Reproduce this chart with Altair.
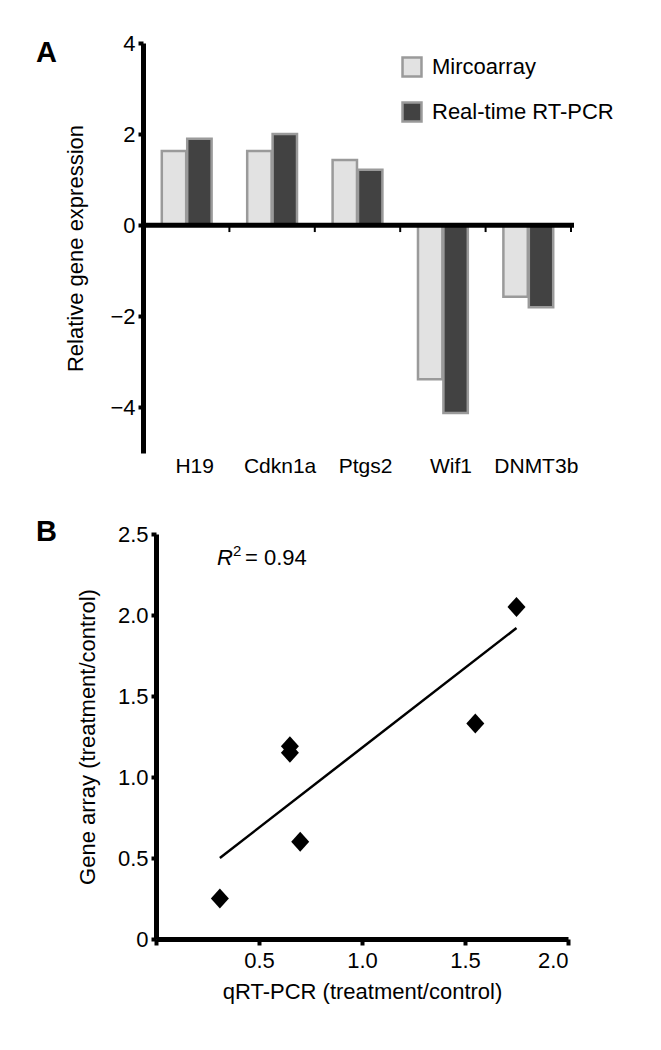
import altair as alt
import pandas as pd

# ---- Panel A data ----
genes = ["H19", "Cdkn1a", "Ptgs2", "Wif1", "DNMT3b"]
microarray = [1.63, 1.63, 1.43, -3.38, -1.57]
rtpcr = [1.90, 2.00, 1.22, -4.12, -1.80]
series = ["Mircoarray", "Real-time RT-PCR"]

# ---- Panel B data ----
qrt_pcr = [0.31, 0.70, 0.65, 0.65, 1.55, 1.75]
gene_array = [0.25, 0.60, 1.19, 1.15, 1.33, 2.05]
fit_x = [0.31, 1.75]
fit_y = [0.50, 1.92]
r2_text = "0.94"

FONT = "'Liberation Sans', Arial, Helvetica, sans-serif"
FS = 22

rows = []
for g, m, r in zip(genes, microarray, rtpcr):
    rows.append({"gene": g, "series": series[0], "value": m})
    rows.append({"gene": g, "series": series[1], "value": r})
bars_df = pd.DataFrame(rows)
genes_df = pd.DataFrame({"gene": genes})

WA, HA = 415, 410
SHIFT = 12  # panel A's y axis sits left of the shared plot origin

x_a = alt.X("gene:N", sort=genes, title=None,
            scale=alt.Scale(paddingInner=0, paddingOuter=0, range=[-SHIFT, WA]),
            axis=alt.Axis(domain=False, ticks=False, labelAngle=0, labelFontSize=21,
                          labelPadding=2, labelColor="black", labelFont=FONT,
                          labelOffset=8))

bars = alt.Chart(bars_df).mark_bar(stroke="#9a9a9a", strokeWidth=2.5).encode(
    x=x_a,
    xOffset=alt.XOffset("series:N", sort=series,
                        scale=alt.Scale(paddingOuter=0.7, paddingInner=0.04)),
    y=alt.Y("value:Q", title="Relative gene expression",
            scale=alt.Scale(domain=[-5, 4], nice=False, zero=False),
            axis=alt.Axis(values=[-4, -2, 0, 2, 4], offset=SHIFT + 1, tickSize=5,
                          titlePadding=22, labelPadding=3)),
    fill=alt.Fill("series:N", sort=series,
                  scale=alt.Scale(domain=series, range=["#e2e2e2", "#424242"]),
                  legend=alt.Legend(title=None, orient="none", legendX=245, legendY=13,
                                    symbolType="square", symbolSize=360,
                                    symbolStrokeColor="#9a9a9a", symbolStrokeWidth=2.5,
                                    labelFontSize=FS, labelFont=FONT, labelColor="black",
                                    labelLimit=0, rowPadding=15, labelOffset=9,
                                    symbolOpacity=1)),
)

zero_line = alt.Chart(genes_df).mark_rule(color="black", strokeWidth=5).encode(
    y=alt.datum(0), x=alt.value(-SHIFT - 1), x2=alt.value(WA + 3)
).transform_filter(alt.datum.gene == genes[0])

cat_ticks = alt.Chart(genes_df).mark_rule(color="black", strokeWidth=2).encode(
    x=alt.X("gene:N", sort=genes, bandPosition=1),
    y=alt.datum(0), y2=alt.datum(-0.15)
)

letter_a = alt.Chart(pd.DataFrame({"t": ["A"]})).mark_text(
    font="Liberation Sans", fontWeight="bold", fontSize=29, align="left",
    baseline="middle", color="black"
).encode(text="t:N", x=alt.value(-120), y=alt.value(10))

panel_a = alt.layer(bars, zero_line, cat_ticks, letter_a).properties(width=WA, height=HA)

# ---- Panel B ----
WB, HB = 412, 405
pts_df = pd.DataFrame({"x": qrt_pcr, "y": gene_array})
fit_df = pd.DataFrame({"x": fit_x, "y": fit_y})

xb = alt.X("x:Q", title="qRT-PCR (treatment/control)",
           scale=alt.Scale(domain=[0, 2], nice=False),
           axis=alt.Axis(values=[0, 0.5, 1.0, 1.5, 2.0], tickSize=6,
                         labelExpr="datum.value == 0 ? '' : format(datum.value, '.1f')",
                         titlePadding=10, labelPadding=5))
yb = alt.Y("y:Q", title="Gene array (treatment/control)",
           scale=alt.Scale(domain=[0, 2.5], nice=False),
           axis=alt.Axis(values=[0, 0.5, 1.0, 1.5, 2.0, 2.5], tickSize=5,
                         labelExpr="datum.value == 0 ? '0' : format(datum.value, '.1f')",
                         titlePadding=18, labelPadding=3))

points = alt.Chart(pts_df).mark_point(
    shape="M0,-1L0.9,0L0,1L-0.9,0Z", filled=True, color="black", size=400, opacity=1
).encode(x=xb, y=yb)

fit = alt.Chart(fit_df).mark_line(color="black", strokeWidth=2.5).encode(x=xb, y=yb)

r_df = pd.DataFrame({"x": [0.296], "y": [2.35]})
r_txt = alt.Chart(r_df).mark_text(font=FONT, fontSize=FS, fontStyle="italic",
                                  align="left", baseline="middle", color="black").encode(
    x="x:Q", y="y:Q", text=alt.value("R"))
sup_txt = alt.Chart(r_df).mark_text(font=FONT, fontSize=15, align="left",
                                    baseline="middle", color="black", dx=16, dy=-7).encode(
    x="x:Q", y="y:Q", text=alt.value("2"))
eq_txt = alt.Chart(r_df).mark_text(font=FONT, fontSize=FS, align="left",
                                   baseline="middle", color="black", dx=28).encode(
    x="x:Q", y="y:Q", text=alt.value("= " + r2_text))

letter_b = alt.Chart(pd.DataFrame({"t": ["B"]})).mark_text(
    font="Liberation Sans", fontWeight="bold", fontSize=29, align="left",
    baseline="middle", color="black"
).encode(text="t:N", x=alt.value(-120), y=alt.value(-2))

panel_b = alt.layer(fit, points, r_txt, sup_txt, eq_txt, letter_b).properties(width=WB, height=HB)

chart = alt.vconcat(panel_a, panel_b, spacing=42).properties(
    padding={"top": 24, "left": 28, "right": 10, "bottom": 10},
    background="white"
).configure_view(stroke=None).configure_axis(
    grid=False, domainWidth=5, domainColor="black", tickColor="black", tickWidth=4,
    labelFontSize=FS, labelColor="black", labelFont=FONT, titleFont=FONT,
    titleFontSize=FS, titleFontWeight="normal", titleColor="black"
)

chart.save("out.html", embed_options={"renderer": "svg", "actions": False})
